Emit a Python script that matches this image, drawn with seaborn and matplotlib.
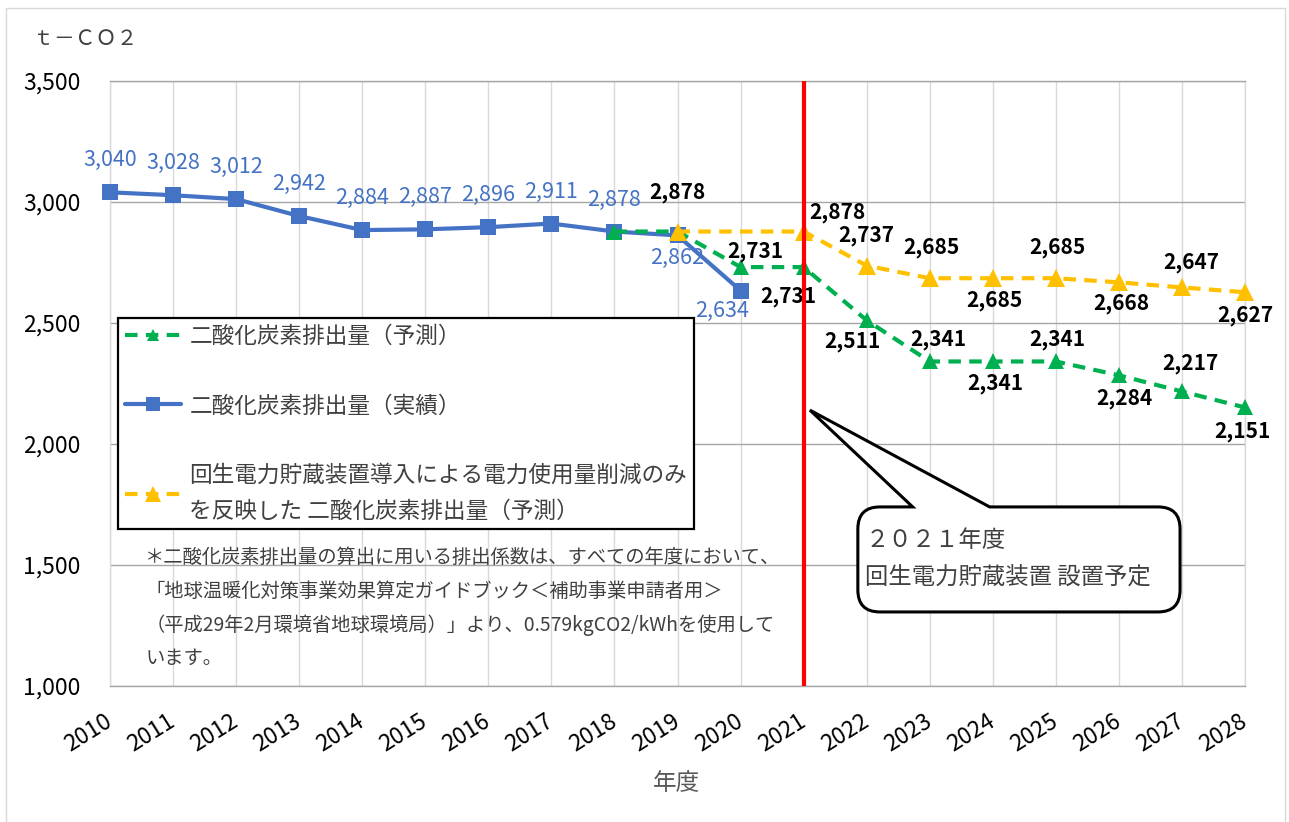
import matplotlib
matplotlib.use("Agg")
import matplotlib.pyplot as plt
import matplotlib.transforms as mtransforms
from matplotlib.lines import Line2D
from matplotlib.path import Path
from matplotlib.patches import PathPatch, Rectangle
import seaborn as sns

# dados (t-CO2)
anos_real = [2010, 2011, 2012, 2013, 2014, 2015, 2016, 2017, 2018, 2019, 2020]
co2_real = [3040, 3028, 3012, 2942, 2884, 2887, 2896, 2911, 2878, 2862, 2634]

anos_prev = [2018, 2019, 2020, 2021, 2022, 2023, 2024, 2025, 2026, 2027, 2028]
co2_prev = [2878, 2878, 2731, 2731, 2511, 2341, 2341, 2341, 2284, 2217, 2151]

anos_reg = [2019, 2021, 2022, 2023, 2024, 2025, 2026, 2027, 2028]
co2_reg = [2878, 2878, 2737, 2685, 2685, 2685, 2668, 2647, 2627]

anos_eixo = list(range(2010, 2029))
y_ticks = [1000, 1500, 2000, 2500, 3000, 3500]

nome_prev = "二酸化炭素排出量（予測）"
nome_real = "二酸化炭素排出量（実績）"
nome_reg = "回生電力貯蔵装置導入による電力使用量削減のみ\nを反映した 二酸化炭素排出量（予測）"

nota = [
    "＊二酸化炭素排出量の算出に用いる排出係数は、すべての年度において、",
    "「地球温暖化対策事業効果算定ガイドブック＜補助事業申請者用＞",
    "（平成29年2月環境省地球環境局）」より、0.579kgCO2/kWhを使用して",
    "います。",
]

# deslocamento dos rótulos (pontos)
off_real = [(0, 23)] * 9 + [(0, -16), (-13, -15)]
off_prev = [None, (0, 28), (11, 11), (-11, -21), (-10, -15), (6, 16),
            (2, -16), (1, 16), (4, -17), (6, 20), (-2, -17)]
off_reg = [None, (24, 14), (0, 22), (1, 22), (1, -16), (1, 22),
           (2, -15), (7, 18), (0, -17)]

azul = "#4472C4"
verde = "#00B050"
laranja = "#FFC000"
cinza_txt = "#404040"

sns.set_theme(style="white")
plt.rcParams["font.family"] = ["Noto Sans CJK JP", "DejaVu Sans"]

fig = plt.figure(figsize=(12.89, 8.22), dpi=100)
ax = fig.add_axes([110 / 1289, 1 - 686 / 822, 1135 / 1289, 605 / 822])

# moldura externa
fig.patches.append(Rectangle((6 / 1289, -0.02), 1279 / 1289, 1.02 - 8 / 822,
                             transform=fig.transFigure, fill=False,
                             edgecolor="#D9D9D9", lw=1))

# linhas
sns.lineplot(x=anos_real, y=co2_real, ax=ax, color=azul, lw=3, marker="s",
             markersize=12, markeredgecolor=azul, markeredgewidth=0,
             clip_on=False, zorder=3)
sns.lineplot(x=anos_prev, y=co2_prev, ax=ax, color=verde, lw=3, marker="^",
             markersize=11, markeredgecolor=verde, markeredgewidth=0,
             clip_on=False, zorder=3.2)
ax.lines[-1].set_linestyle((0, (3, 2)))
sns.lineplot(x=anos_reg, y=co2_reg, ax=ax, color=laranja, lw=3, marker="^",
             markersize=13, markeredgecolor=laranja, markeredgewidth=0,
             clip_on=False, zorder=3.4)
ax.lines[-1].set_linestyle((0, (3, 2)))

ax.axvline(2021, color="#FF0000", lw=3, zorder=6)

# rótulos
for x, v, off in zip(anos_real, co2_real, off_real):
    ax.annotate(f"{v:,}", (x, v), xytext=off, textcoords="offset points",
                ha="center", va="center", fontsize=15.5, color=azul, zorder=5)
for anos, vals, offs in [(anos_prev, co2_prev, off_prev), (anos_reg, co2_reg, off_reg)]:
    for x, v, off in zip(anos, vals, offs):
        if off is None:
            continue
        ax.annotate(f"{v:,}", (x, v), xytext=off, textcoords="offset points",
                    ha="center", va="center", fontsize=15, fontweight="bold",
                    color="black", zorder=5)

# eixos
ax.set_xlim(2010, 2028)
ax.set_ylim(1000, 3500)
ax.set_yticks(y_ticks)
ax.set_yticklabels([f"{v:,}" for v in y_ticks])
ax.set_xticks(anos_eixo)
ax.set_xticklabels([str(a) for a in anos_eixo], rotation=32, ha="right",
                   va="center", rotation_mode="anchor")
dx = mtransforms.ScaledTranslation(6 / 100, 0, fig.dpi_scale_trans)
for lbl in ax.get_xticklabels():
    lbl.set_transform(lbl.get_transform() + dx)
ax.tick_params(axis="y", length=0, pad=21, labelsize=16.5, labelcolor="black")
ax.tick_params(axis="x", length=0, pad=24, labelsize=16.5, labelcolor="black")
ax.grid(axis="y", color="#A6A6A6", lw=1)
ax.grid(axis="x", color="#D9D9D9", lw=1)
ax.set_axisbelow(True)
for lado, cor in [("left", "#D9D9D9"), ("right", "#D9D9D9"),
                  ("top", "#A6A6A6"), ("bottom", "#A6A6A6")]:
    ax.spines[lado].set_color(cor)
    ax.spines[lado].set_linewidth(1)

# legenda
handles = [
    Line2D([], [], color=verde, lw=3, ls=(0, (3, 2)), marker="^", ms=8, mew=0),
    Line2D([], [], color=azul, lw=3, marker="s", ms=10, mew=0),
    Line2D([], [], color=laranja, lw=3, ls=(0, (3, 2)), marker="^", ms=11, mew=0),
]
leg = ax.legend(handles, [nome_prev, nome_real, nome_reg], loc="upper left",
                bbox_to_anchor=(0.007, 0.608), fontsize=16.3, labelcolor=cinza_txt,
                frameon=True, fancybox=False, framealpha=1, edgecolor="black",
                labelspacing=2.05, handlelength=2.5, handletextpad=0.35,
                borderpad=0.3, borderaxespad=0)
leg.get_frame().set_linewidth(1.6)
leg.set_zorder(7)
for t in leg.get_texts():
    t.set_linespacing(1.7)

# nota
for i, linha in enumerate(nota):
    ax.text(0.031, 0.213 - i * 0.056, linha, transform=ax.transAxes,
            ha="left", va="center", fontsize=13.9, color=cinza_txt, zorder=5)

# balão
x0, x1, y0, y1 = 2021.86, 2026.97, 1306, 1740
rx, ry = 0.35, 91
verts = [(x0 + rx, y1), (2022.73, y1), (2021.10, 2140), (2023.95, y1), (x1 - rx, y1),
         (x1, y1), (x1, y1 - ry), (x1, y0 + ry), (x1, y0), (x1 - rx, y0),
         (x0 + rx, y0), (x0, y0), (x0, y0 + ry), (x0, y1 - ry), (x0, y1),
         (x0 + rx, y1), (x0 + rx, y1)]
codes = [Path.MOVETO, Path.LINETO, Path.LINETO, Path.LINETO, Path.LINETO,
         Path.CURVE3, Path.CURVE3, Path.LINETO, Path.CURVE3, Path.CURVE3,
         Path.LINETO, Path.CURVE3, Path.CURVE3, Path.LINETO, Path.CURVE3,
         Path.CURVE3, Path.CLOSEPOLY]
ax.add_patch(PathPatch(Path(verts, codes), facecolor="white", edgecolor="black",
                       lw=2.2, zorder=7, clip_on=False))
ax.text(2021.98, 1603, "２０２１年度", ha="left", va="center", fontsize=16.8,
        color=cinza_txt, zorder=8)
ax.text(2021.97, 1446, "回生電力貯蔵装置 設置予定", ha="left", va="center",
        fontsize=16.8, color=cinza_txt, zorder=8)

# títulos
fig.text(33 / 1289, 1 - 39 / 822, "ｔ－ＣＯ２", ha="left", va="center",
         fontsize=15, color=cinza_txt)
fig.text(676 / 1289, 1 - 783 / 822, "年度", ha="center", va="center",
         fontsize=17, color="#595959")

plt.savefig("out.png", dpi=100)
